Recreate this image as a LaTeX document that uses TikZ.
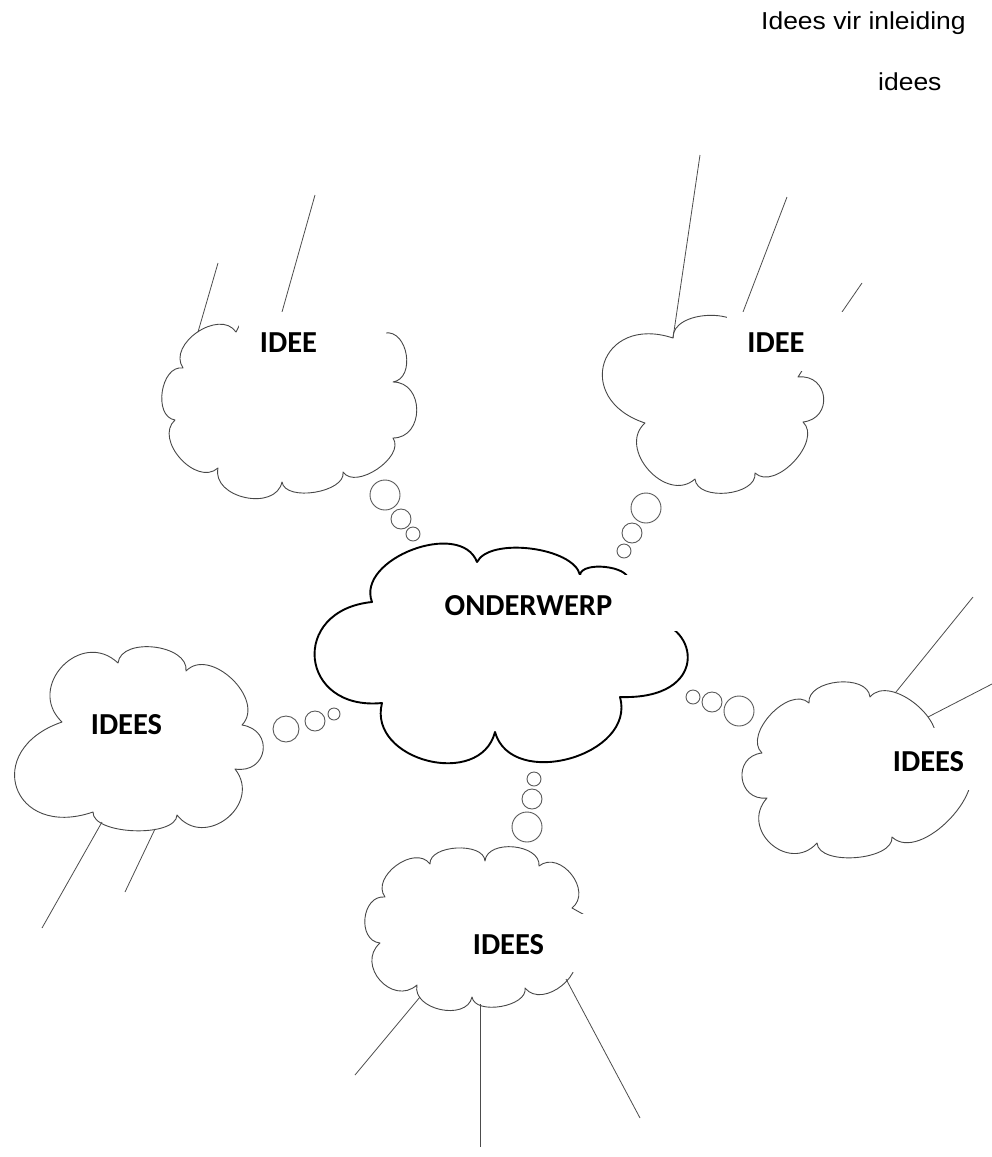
\documentclass[tikz,border=0pt]{standalone}
\usepackage{fontspec}
\newfontfamily\labelfont{Carlito}
\newfontfamily\headfont[FakeStretch=1.08]{Liberation Sans}
\begin{document}
\begin{tikzpicture}[x=1pt,y=-1pt,
  bp/.style={bend left=90, looseness=#1}, bp/.default=1,
  thincloud/.style={draw=black!72, line width=0.9pt, fill=white, line join=round},
  maincloud/.style={draw=black, line width=1.9pt, fill=white, line join=round},
  bubble/.style={draw=black!65, line width=0.9pt, fill=white},
  ray/.style={draw=black!70, line width=0.8pt},
  cover/.style={fill=white},
  idea/.style={font=\labelfont\bfseries\fontsize{30.5}{36}\selectfont, inner sep=0pt},
  head/.style={font=\headfont\fontsize{24.5}{29}\selectfont, inner sep=0pt}]
\useasboundingbox (0,0) rectangle (992,1157);

% clouds (bumps listed clockwise)
\draw[thincloud] (183,368) to[bp=1.15] (236,332) -- (241,322) -- (383,322) -- (385,333)
  to[bp=1.2] (393,382) to[bp=1.45] (393,438) to[bp=0.95] (343,472) to[bp=0.85] (282,482)
  to[bp=1.2] (218,468) to[bp=1.15] (175,420) to[bp=1.1] (183,368) -- cycle;
\draw[thincloud] (673,338) to[bp=1.0] (745,335) -- (805,366) -- (798,377)
  to[bp=1.75] (803,422) to[bp=1.0] (755,473) to[bp=0.97] (695,479) to[bp=1.3] (645,423)
  to[bp=2.2] (673,338) -- cycle;
\draw[maincloud] (372,602) to[bp=1.05] (477,562) to[bend left=70, looseness=0.7] (580,575)
  to[bp=0.75] (628,580) -- (650,620) .. controls (700,625) and (710,700) .. (620,697)
  to[bp=1.2] (495,732) to[bp=1.3] (382,703) to[bp=2.1] (372,602) -- cycle;
\draw[thincloud] (118,663) to[bp=1.0] (186,671) to[bp=1.15] (242,725) to[bp=1.9] (235,769)
  to[bp=1.55] (177,815) to[bp=0.7] (93,812) to[bp=2.3] (62,722) to[bp=1.6] (118,663) -- cycle;
\draw[thincloud] (762,753) to[bp=1.0] (809,703) to[bp=1.0] (870,697) to[bp=1.0] (932,748)
  -- (965,760) to[bp=0.95] (892,837) to[bp=0.8] (817,843) to[bp=1.6] (767,798)
  to[bp=1.7] (762,753) -- cycle;
\draw[thincloud] (385,897) to[bp=1.15] (430,864) to[bp=0.9] (485,861) to[bp=1.05] (539,866)
  to[bp=1.3] (572,908) -- (590,918) -- (572,950) to[bp=1.2] (525,988) to[bp=0.9] (472,997)
  to[bp=1.15] (417,985) to[bp=1.5] (380,943) to[bp=1.3] (385,897) -- cycle;

% thought bubbles
\draw[bubble] (385,495) circle[radius=15pt] (401,519) circle[radius=10pt] (413,534) circle[radius=7pt];
\draw[bubble] (646,508) circle[radius=15pt] (632,533) circle[radius=10pt] (624,551) circle[radius=7pt];
\draw[bubble] (286,729) circle[radius=13pt] (315,721) circle[radius=10pt] (334,714) circle[radius=6pt];
\draw[bubble] (739,711) circle[radius=15pt] (712,702) circle[radius=10pt] (693,697) circle[radius=7pt];
\draw[bubble] (527,827) circle[radius=15pt] (532,799) circle[radius=10pt] (534,779) circle[radius=7pt];

% rays
\draw[ray] (218,263) -- (198,332);
\draw[ray] (315,195) -- (282,312);
\draw[ray] (700,155) -- (673,338);
\draw[ray] (787,197) -- (743,312);
\draw[ray] (862,283) -- (842,312);
\draw[ray] (102,822) -- (42,928);
\draw[ray] (155,829) -- (125,892);
\draw[ray] (973,597) -- (896,692);
\draw[ray] (992,684) -- (928,717);
\draw[ray] (420,997) -- (355,1075);
\draw[ray] (480,1004) -- (480,1147);
\draw[ray] (566,979) -- (640,1118);

% text boxes
\fill[cover] (239,312) rectangle (386,372);
\fill[cover] (727,312) rectangle (862,371);
\fill[cover] (432,575) rectangle (700,631);
\fill[cover] (885,728) rectangle (992,790);
\fill[cover] (462,914) rectangle (600,972);

\node[idea] (tl) at (288.5,343) {IDEE};
\node[idea] (tr) at (776,343) {IDEE};
\node[idea] (mid) at (528.5,606) {ONDERWERP};
\node[idea] (lf) at (126.5,725) {IDEES};
\node[idea] (rt) at (928.5,762) {IDEES};
\node[idea] (bt) at (508.5,945) {IDEES};

\node[head, anchor=base west] (title) at (761,29.5) {Idees vir inleiding};
\node[head, anchor=base west] (sub) at (878,90.5) {idees};
\end{tikzpicture}
\end{document}
